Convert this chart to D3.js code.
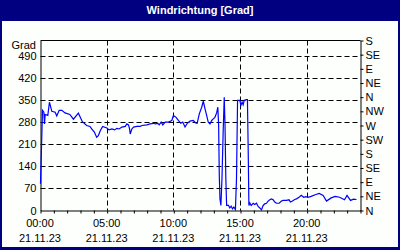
<!DOCTYPE html>
<html>
<head>
<meta charset="utf-8">
<script src="https://cdn.jsdelivr.net/npm/d3@7"></script>
<style>
  body { margin: 0; padding: 0; background: #fff; }
  svg { display: block; }
  text { font-family: "Liberation Sans", Arial, sans-serif; font-size: 11px; fill: #000; }
</style>
</head>
<body>
<script>
// ---- data (hours since 00:00 on 21.11.23, wind direction in degrees) ----
const title = "Windrichtung [Grad]";
const unitLabel = "Grad";
const dateLabel = "21.11.23";
const hours = [0, 0.1, 0.15, 0.25, 0.3, 0.35, 0.55, 0.67, 0.85, 1.1, 1.22, 1.4, 1.6, 1.84, 2.2, 2.47, 2.84, 3.14, 3.46, 3.71, 3.84, 4.04, 4.21, 4.34, 4.49, 4.66, 4.98, 5.14, 5.36, 5.55, 5.73, 5.9, 6.1, 6.36, 6.48, 6.6, 6.68, 6.73, 6.85, 6.98, 7.23, 7.48, 7.6, 7.98, 8.22, 8.47, 8.6, 8.8, 8.9, 9.05, 9.17, 9.35, 9.6, 9.85, 9.97, 10.17, 10.34, 10.52, 10.67, 10.84, 11.01, 11.21, 11.46, 11.64, 11.75, 11.91, 12.09, 12.21, 12.34, 12.46, 12.58, 12.71, 12.84, 12.96, 13.08, 13.21, 13.3, 13.36, 13.41, 13.46, 13.53, 13.61, 13.7, 13.78, 13.84, 13.9, 13.96, 14.1, 14.2, 14.3, 14.4, 14.5, 14.62, 14.7, 14.78, 14.95, 15.03, 15.12, 15.2, 15.28, 15.45, 15.52, 15.58, 15.63, 15.7, 15.8, 15.95, 16.07, 16.2, 16.32, 16.45, 16.57, 16.7, 16.82, 16.95, 17.07, 17.2, 17.32, 17.45, 17.57, 17.7, 17.9, 18.07, 18.2, 18.44, 18.64, 18.74, 18.9, 19.07, 19.2, 19.39, 19.56, 19.74, 19.9, 20.06, 20.3, 20.6, 20.9, 21.2, 21.45, 21.8, 22.1, 22.43, 22.8, 22.99, 23.25, 23.48, 23.7];
const degrees = [85, 240, 318, 312, 275, 305, 302, 344, 315, 312, 300, 318, 318, 310, 305, 290, 309, 282, 270, 267, 259, 249, 233, 238, 254, 267, 262, 256, 259, 256, 261, 259, 265, 267, 275, 272, 259, 243, 259, 265, 267, 267, 270, 272, 275, 277, 275, 277, 272, 281, 272, 281, 281, 286, 302, 296, 286, 277, 281, 265, 277, 284, 286, 278, 277, 307, 328, 347, 323, 302, 281, 275, 286, 291, 296, 310, 328, 270, 111, 37, 16, 101, 250, 360, 270, 101, 16, 16, 8, 14, 5, 11, 3, 101, 350, 350, 334, 344, 336, 350, 352, 352, 185, 16, 24, 16, 23, 19, 23, 13, 8, 2, 16, 21, 23, 30, 34, 37, 34, 27, 23, 23, 30, 32, 32, 34, 27, 30, 35, 37, 42, 48, 42, 44, 42, 45, 50, 54, 48, 30, 40, 45, 42, 34, 48, 32, 36, 35];
const leftTicks = [0, 70, 140, 210, 280, 350, 420, 490];
const rightTicks = [0, 45, 90, 135, 180, 225, 270, 315, 360, 405, 450, 495, 540];
const rightLabels = ["N", "NE", "E", "SE", "S", "SW", "W", "NW", "N", "NE", "E", "SE", "S"];
const hourTicks = d3.range(0, 25, 1);
const labelHours = [0, 5, 10, 15, 20];
const timeLabels = ["00:00", "05:00", "10:00", "15:00", "20:00"];

// ---- layout ----
const W = 400, H = 250;
const svg = d3.select("body").append("svg").attr("width", W).attr("height", H);

svg.append("rect").attr("x", 0).attr("y", 0).attr("width", W).attr("height", H).attr("fill", "#000080");
svg.append("rect").attr("x", 2).attr("y", 21).attr("width", 396).attr("height", 226).attr("fill", "#fcfffc");
svg.append("text").attr("x", 200).attr("y", 14).attr("text-anchor", "middle")
  .style("font-weight", "bold").style("fill", "#fff").style("font-size", "11px").text(title);

const x = d3.scaleLinear().domain([0, 24]).range([40, 360]);
const y = d3.scaleLinear().domain([0, 540]).range([210, 40]);

const g = svg.append("g").attr("transform", "translate(0.5,0.5)");

// grid
g.selectAll(".hg").data(leftTicks.filter(d => d > 0)).enter().append("line")
  .attr("x1", 40).attr("x2", 360).attr("y1", d => Math.round(y(d))).attr("y2", d => Math.round(y(d)))
  .attr("stroke", "#000").attr("stroke-dasharray", "5,3");
g.selectAll(".vg").data(labelHours.filter(d => d > 0)).enter().append("line")
  .attr("y1", 40).attr("y2", 210).attr("x1", d => Math.round(x(d))).attr("x2", d => Math.round(x(d)))
  .attr("stroke", "#000").attr("stroke-dasharray", "5,3");

// frame top line
g.append("line").attr("x1", 40).attr("x2", 360).attr("y1", 40).attr("y2", 40).attr("stroke", "#000");

// left axis
const la = g.append("g").attr("transform", "translate(40,0)")
  .call(d3.axisLeft(y).tickValues(leftTicks).tickSize(0).tickPadding(4).tickSizeOuter(0));
la.select(".domain").attr("stroke", "#000");
la.selectAll("text").style("font-family", "'Liberation Sans', Arial, sans-serif").style("font-size", "11px").attr("fill", "#000");

// right axis
const ra = g.append("g").attr("transform", "translate(360,0)")
  .call(d3.axisRight(y).tickValues(rightTicks).tickSize(3).tickPadding(2).tickSizeOuter(0)
    .tickFormat((d, i) => rightLabels[i]));
ra.selectAll("text").style("font-family", "'Liberation Sans', Arial, sans-serif").style("font-size", "11px").attr("fill", "#000");

// bottom axis
const ba = g.append("g").attr("transform", "translate(0,210)")
  .call(d3.axisBottom(x).tickValues(hourTicks).tickSize(3).tickSizeOuter(0).tickFormat(""));

// time + date labels
svg.selectAll(".tl").data(labelHours).enter().append("text")
  .attr("x", d => x(d)).attr("y", 227).attr("text-anchor", "middle").text((d, i) => timeLabels[i]);
svg.selectAll(".dl").data(labelHours).enter().append("text")
  .attr("x", d => x(d)).attr("y", 242).attr("text-anchor", "middle").text(dateLabel);

// unit label
svg.append("text").attr("x", 36).attr("y", 49).attr("text-anchor", "end").text(unitLabel);

// series
const pts = hours.map((h, i) => [h, degrees[i]]);
g.append("path").datum(pts)
  .attr("fill", "none").attr("stroke", "#0000ff").attr("stroke-width", 1.2)
  .attr("d", d3.line().x(d => x(d[0])).y(d => y(d[1])));
</script>
</body>
</html>
